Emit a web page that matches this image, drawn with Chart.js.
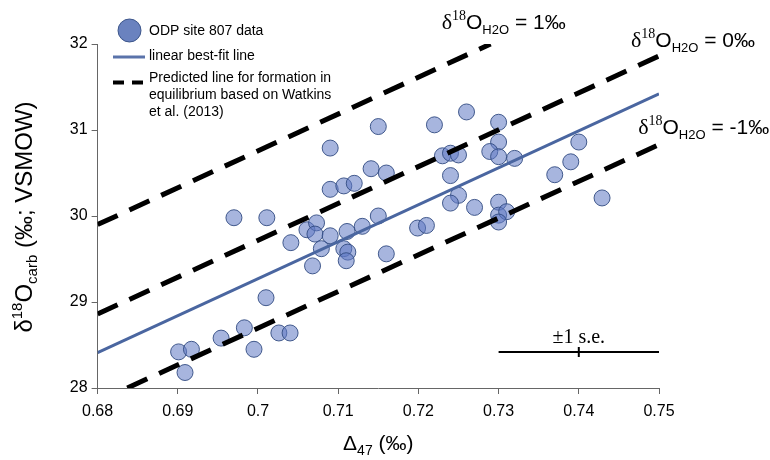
<!DOCTYPE html>
<html>
<head>
<meta charset="utf-8">
<script src="https://cdn.jsdelivr.net/npm/chart.js@4/dist/chart.umd.min.js"></script>
<style>
  html, body { margin: 0; background: #fff; }
  #wrap { width: 770px; height: 460px; }
</style>
</head>
<body>
<div id="wrap"><canvas id="chart" width="770" height="460"></canvas></div>
<script>
// --- DATA ---
const d47 = [0.6901, 0.6917, 0.6909, 0.6954, 0.6983, 0.6995, 0.7026, 0.7040, 0.7010, 0.7068,
  0.7090, 0.7090, 0.6970, 0.7011, 0.7061, 0.7073, 0.7071, 0.7090, 0.7041, 0.7079,
  0.7260, 0.7220, 0.7150, 0.7300, 0.7300, 0.7289, 0.7300, 0.7320, 0.7230, 0.7240,
  0.7250, 0.7240, 0.7141, 0.7160, 0.7107, 0.7120, 0.7250, 0.7240, 0.7270, 0.7300,
  0.7300, 0.7310, 0.7300, 0.7150, 0.7130, 0.7111, 0.7199, 0.7210, 0.7107, 0.7112,
  0.7110, 0.7160, 0.7400, 0.7390, 0.7370, 0.7429];
const d18O = [28.42, 28.45, 28.18, 28.58, 28.70, 28.45, 28.64, 28.64, 29.05, 29.42,
  30.79, 30.31, 29.98, 29.98, 29.84, 29.92, 29.79, 29.77, 29.69, 29.62,
  31.21, 31.06, 31.04, 31.09, 30.86, 30.75, 30.69, 30.67, 30.70, 30.73,
  30.71, 30.47, 30.55, 30.50, 30.35, 30.38, 30.24, 30.15, 30.10, 30.16,
  30.01, 30.05, 29.93, 30.00, 29.88, 29.82, 29.86, 29.89, 29.62, 29.58,
  29.48, 29.56, 30.86, 30.63, 30.48, 30.21];

const fitX = [0.68, 0.75];
const fitY = [28.41, 31.42];
const eqPlus1X = [0.68, 0.729];
const eqPlus1Y = [29.90, 32.0];
const eqZeroX = [0.68, 0.75];
const eqZeroY = [28.86, 31.86];
const eqMinus1X = [0.6837, 0.75];
const eqMinus1Y = [28.0, 30.83];
const seX = [0.73, 0.75];
const seY = [28.42, 28.42];
const seMidX = [0.74];

const xTicks = [0.68, 0.69, 0.70, 0.71, 0.72, 0.73, 0.74, 0.75];
const xTickLabels = ['0.68', '0.69', '0.7', '0.71', '0.72', '0.73', '0.74', '0.75'];
const yTicks = [28, 29, 30, 31, 32];
const waterLabels = ['1‰', '0‰', '-1‰'];

// --- STYLE ---
const SANS = '"Liberation Sans", Arial, Helvetica, sans-serif';
const SERIF = '"Liberation Serif", "Times New Roman", serif';
const pts = (xs, ys) => xs.map((x, i) => ({ x, y: ys[i] }));

function drawParts(ctx, parts, x, y, align) {
  let w = 0;
  parts.forEach(p => { ctx.font = p[1]; w += ctx.measureText(p[0]).width; });
  let cx = align === 'center' ? x - w / 2 : x;
  ctx.textAlign = 'left';
  ctx.textBaseline = 'alphabetic';
  parts.forEach(p => {
    ctx.font = p[1];
    ctx.fillText(p[0], cx, y + (p[2] || 0));
    cx += ctx.measureText(p[0]).width;
  });
}

const textPlugin = {
  id: 'texts',
  afterDraw(chart) {
    const { ctx, chartArea: a, scales: { x, y } } = chart;
    ctx.save();
    ctx.fillStyle = '#000';

    // axis titles
    drawParts(ctx, [
      ['\u0394', `21px ${SANS}`],
      ['47', `14px ${SANS}`, 5],
      [' (‰)', `21px ${SANS}`]
    ], (a.left + a.right) / 2, 450, 'center');

    ctx.save();
    ctx.translate(32, 217);
    ctx.rotate(-Math.PI / 2);
    drawParts(ctx, [
      ['\u03b4', `24px ${SANS}`],
      ['18', `15px ${SANS}`, -10],
      ['O', `24px ${SANS}`],
      ['carb', `15px ${SANS}`, 5],
      [' (‰; VSMOW)', `24px ${SANS}`]
    ], 0, 0, 'center');
    ctx.restore();

    // water isotope labels
    const anchors = [[0.7229, 32.17], [0.7465, 31.97], [0.7474, 30.95]];
    waterLabels.forEach((lbl, i) => {
      const px = x.getPixelForValue(anchors[i][0]);
      const py = y.getPixelForValue(anchors[i][1]);
      drawParts(ctx, [
        ['\u03b4', `22px ${SERIF}`],
        ['18', `14px ${SERIF}`, -9],
        ['O', `21px ${SANS}`],
        ['H2O', `13px ${SANS}`, 5],
        [' = ' + lbl, `21px ${SANS}`]
      ], px, py, 'left');
    });

    // s.e. label
    ctx.font = `20px ${SERIF}`;
    ctx.textAlign = 'center';
    ctx.textBaseline = 'alphabetic';
    ctx.fillText('±1 s.e.', x.getPixelForValue(seMidX[0]), y.getPixelForValue(seY[0]) - 9);

    // legend
    const lx = 113, tx = 149;
    ctx.beginPath();
    ctx.arc(129.5, 30.5, 11.5, 0, Math.PI * 2);
    ctx.fillStyle = '#6a82bf';
    ctx.fill();
    ctx.lineWidth = 1;
    ctx.strokeStyle = '#3d568a';
    ctx.stroke();

    ctx.strokeStyle = '#5a73aa';
    ctx.lineWidth = 3;
    ctx.beginPath();
    ctx.moveTo(lx, 57);
    ctx.lineTo(lx + 32, 57);
    ctx.stroke();

    ctx.strokeStyle = '#000';
    ctx.lineWidth = 4;
    ctx.beginPath();
    ctx.moveTo(lx, 82.5); ctx.lineTo(lx + 11, 82.5);
    ctx.moveTo(lx + 19, 82.5); ctx.lineTo(lx + 30, 82.5);
    ctx.stroke();

    ctx.fillStyle = '#000';
    ctx.font = `14px ${SANS}`;
    ctx.textAlign = 'left';
    ctx.textBaseline = 'middle';
    ctx.fillText('ODP site 807 data', tx, 31);
    ctx.fillText('linear best-fit line', tx, 56);
    ctx.fillText('Predicted line for formation in', tx, 78.5);
    ctx.fillText('equilibrium based on Watkins', tx, 95.5);
    ctx.fillText('et al. (2013)', tx, 112);
    ctx.restore();
  }
};

const dashed = (data) => ({
  type: 'line', data, order: 1,
  borderColor: '#000', borderWidth: 5, borderDash: [22, 13],
  pointRadius: 0, fill: false
});

new Chart(document.getElementById('chart'), {
  type: 'scatter',
  data: {
    datasets: [
      dashed(pts(eqPlus1X, eqPlus1Y)),
      dashed(pts(eqZeroX, eqZeroY)),
      dashed(pts(eqMinus1X, eqMinus1Y)),
      { type: 'line', data: pts(fitX, fitY), order: 1, borderColor: '#4a66a0', borderWidth: 3, pointRadius: 0 },
      { type: 'line', data: pts(seX, seY), order: 1, borderColor: '#000', borderWidth: 2, pointRadius: 0 },
      { data: seMidX.map(v => ({ x: v, y: seY[0] })), order: 1, pointStyle: 'line', rotation: 90,
        pointRadius: 5, borderColor: '#000', borderWidth: 2 },
      { label: 'ODP site 807 data', data: pts(d47, d18O), order: 2, pointRadius: 8,
        backgroundColor: 'rgba(95, 120, 195, 0.55)', borderColor: 'rgba(50, 75, 130, 0.9)', borderWidth: 1 }
    ]
  },
  options: {
    responsive: false,
    animation: false,
    devicePixelRatio: 1,
    events: [],
    layout: { padding: { top: 44, right: 111, left: 0, bottom: 0 } },
    plugins: { legend: { display: false }, tooltip: { enabled: false } },
    scales: {
      x: {
        type: 'linear', min: 0.68, max: 0.75,
        afterBuildTicks: s => { s.ticks = xTicks.map(v => ({ value: v })); },
        afterFit: s => { s.height = 72; },
        ticks: { callback: (v, i) => xTickLabels[i], color: '#000', font: { family: SANS, size: 16 }, padding: 8, maxRotation: 0 },
        grid: { display: true, drawOnChartArea: false, drawTicks: true, tickLength: 6, color: '#666' },
        border: { display: true, color: '#666', width: 1 }
      },
      y: {
        min: 28, max: 32,
        afterBuildTicks: s => { s.ticks = yTicks.map(v => ({ value: v })); },
        afterFit: s => { s.width = 97.6; },
        ticks: { color: '#000', font: { family: SANS, size: 16 }, padding: 4 },
        grid: { display: true, drawOnChartArea: false, drawTicks: true, tickLength: 6, color: '#666' },
        border: { display: true, color: '#666', width: 1 }
      }
    }
  },
  plugins: [textPlugin]
});
</script>
</body>
</html>
